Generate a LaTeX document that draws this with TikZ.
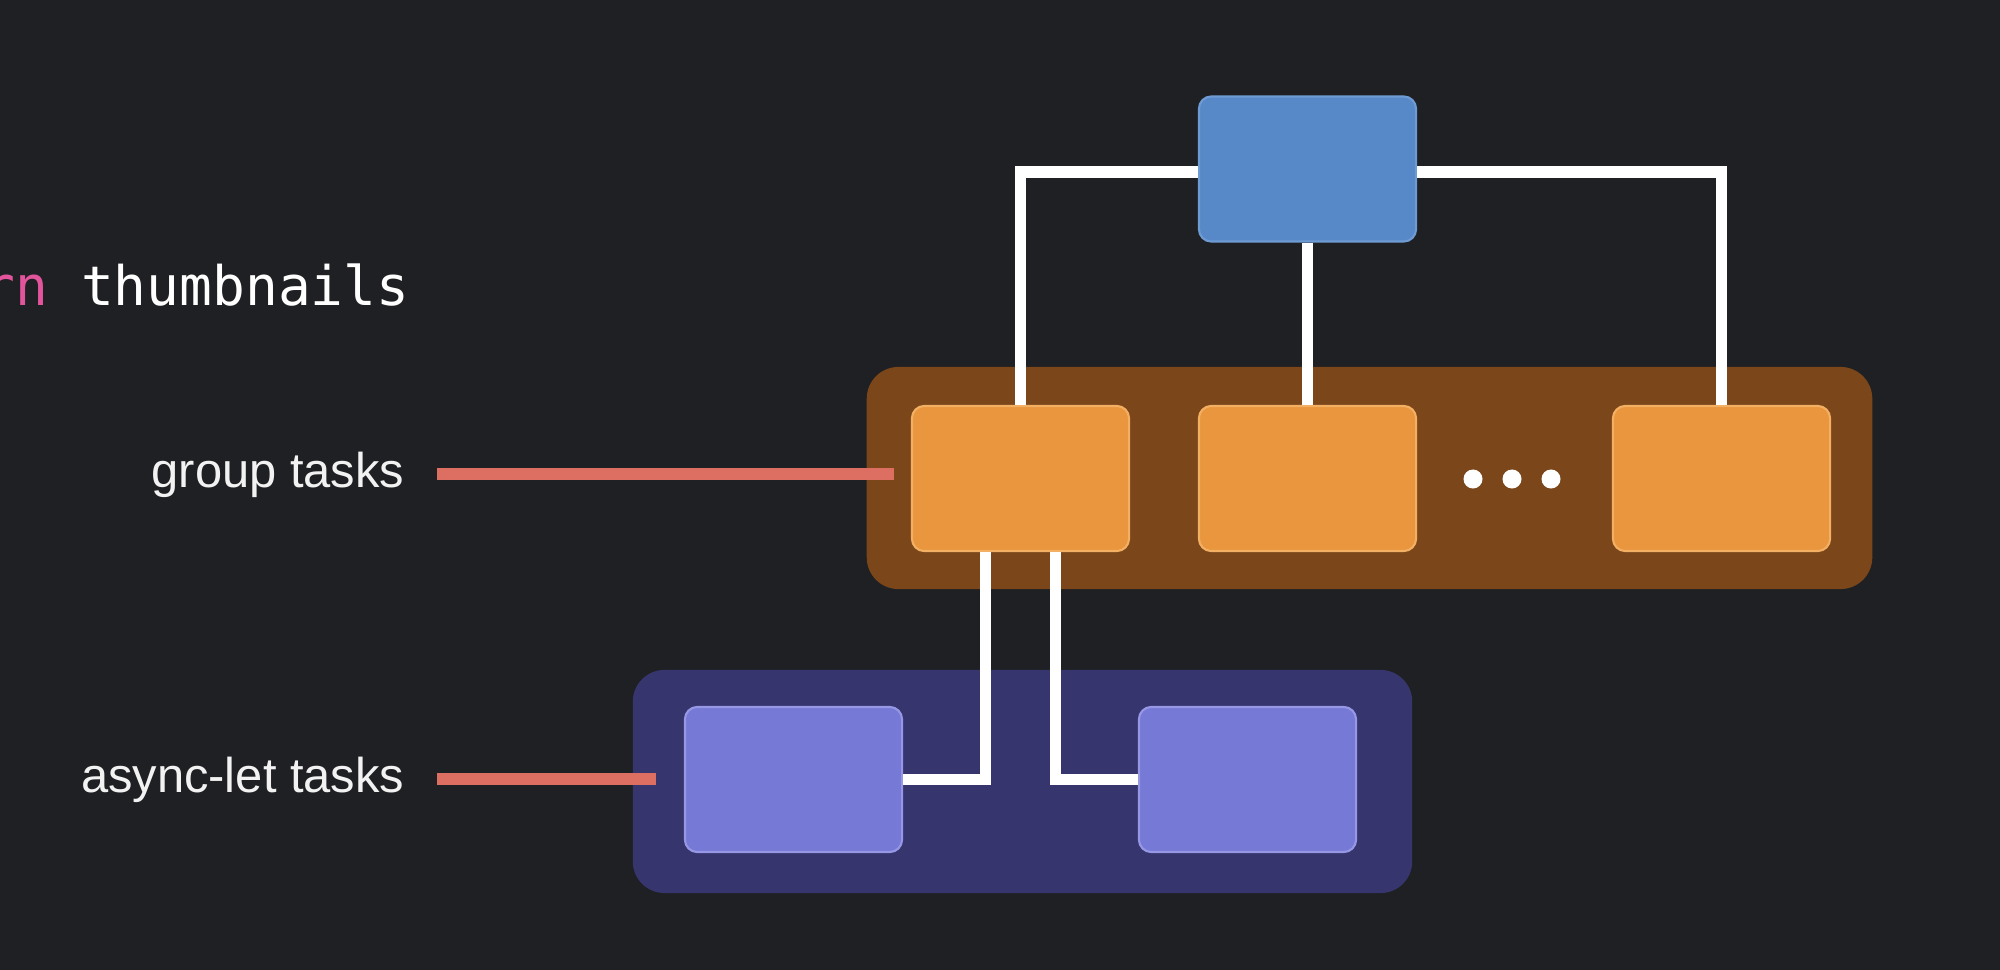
\documentclass[tikz,border=0pt]{standalone}
\usepackage{fontspec}
\setmainfont{Liberation Sans}
\setmonofont{DejaVu Sans Mono}
\definecolor{bgdark}{HTML}{1F2023}
\definecolor{rootblue}{HTML}{5788C7}
\definecolor{rootedge}{HTML}{6F9BD4}
\definecolor{grpbrown}{HTML}{7A461A}
\definecolor{grporange}{HTML}{E9963E}
\definecolor{grpedge}{HTML}{F3B062}
\definecolor{letnavy}{HTML}{37356E}
\definecolor{letviolet}{HTML}{7779D6}
\definecolor{letedge}{HTML}{9698E6}
\definecolor{markred}{HTML}{DD6E62}
\definecolor{kwpink}{HTML}{E2559C}
\begin{document}
\begin{tikzpicture}[x=0.01cm, y=-0.01cm,
                    task/.style={rectangle, rounded corners=3.5pt, minimum width=2.17cm, minimum height=1.45cm, inner sep=0, line width=0.6pt},
                    pool/.style={rectangle, rounded corners=9pt, inner sep=0},
                    link/.style={draw=white, line width=3.2pt},
                    marker/.style={draw=markred, line width=3.4pt},
                    tag/.style={anchor=base east, inner sep=0, text=white!95!black, font=\fontsize{13.9}{16}\selectfont}]
\useasboundingbox (0,0) rectangle (2000,970);
\clip (0,0) rectangle (2000,970);
\fill[bgdark] (0,0) rectangle (2000,970);

\node[anchor=base west, inner sep=0, text=white, font=\ttfamily\fontsize{15.5}{18}\selectfont] (code) at (-18,305)
    {\textcolor{kwpink}{rn} thumbnails};

% containers
\node[pool, fill=grpbrown, minimum width=10.05cm, minimum height=2.22cm] (grp) at (1369.5,478) {};
\node[pool, fill=letnavy, minimum width=7.79cm, minimum height=2.23cm] (let) at (1022.5,781.5) {};

% tasks
\node[task, fill=rootblue, draw=rootedge] (root) at (1307.5,169) {};
\node[task, fill=grporange, draw=grpedge] (g1) at (1020.5,478.5) {};
\node[task, fill=grporange, draw=grpedge] (g2) at (1307.5,478.5) {};
\node[task, fill=grporange, draw=grpedge] (g3) at (1721.5,478.5) {};
\node[task, fill=letviolet, draw=letedge] (a1) at (793.5,779.5) {};
\node[task, fill=letviolet, draw=letedge] (a2) at (1247.5,779.5) {};

\foreach \x in {1473,1512,1551}
    \fill[white] (\x,479) circle (0.095cm);

% links
\draw[link] ([yshift=-0.03cm]root.west) -| (g1.north);
\draw[link] (root.south) -- (g2.north);
\draw[link] ([yshift=-0.03cm]root.east) -| (g3.north);
\draw[link] ([xshift=-0.35cm]g1.south) |- (a1.east);
\draw[link] ([xshift=0.35cm]g1.south) |- (a2.west);

% labels
\node[tag] (lbgroup) at (405,487) {group tasks};
\node[tag] (lbasync) at (405,792) {async-let tasks};
\draw[marker] ([xshift=0.32cm]lbgroup.east) -- ([xshift=-0.17cm]lbgroup.east -| g1.west);
\draw[marker] ([xshift=0.32cm]lbasync.east) -- ([xshift=-0.28cm]lbasync.east -| a1.west);
\end{tikzpicture}
\end{document}
